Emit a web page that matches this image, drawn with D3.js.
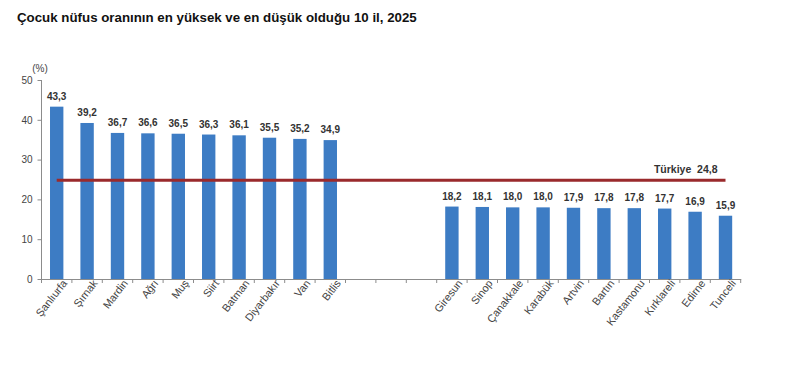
<!doctype html>
<html>
<head>
<meta charset="utf-8">
<style>
  body { margin: 0; background: #fff; font-family: 'Liberation Sans', Arial, sans-serif; }
  svg { display: block; }
  text { font-family: 'Liberation Sans', Arial, sans-serif; }
  .title { font-size: 13.3px; font-weight: 700; fill: #111; }
  .axis path, .axis line { stroke: #8c8c8c; }
  .axis text { font-size: 10px; fill: #444; }
  .xaxis .tick text { font-size: 10.8px; }
  .bar { fill: #3d7cc4; }
  .value { font-size: 10px; font-weight: 700; fill: #333; }
  .ref { stroke: #9a2a2c; stroke-width: 3; }
  .reflabel { font-size: 10.5px; font-weight: 700; fill: #333; }
</style>
<script src="https://d3js.org/d3.v7.min.js"></script>
</head>
<body>
<svg width="800" height="371"></svg>
<script>
const highProvinces = ['Şanlıurfa', 'Şırnak', 'Mardin', 'Ağrı', 'Muş', 'Siirt', 'Batman', 'Diyarbakır', 'Van', 'Bitlis'];
const highValues = [43.3, 39.2, 36.7, 36.6, 36.5, 36.3, 36.1, 35.5, 35.2, 34.9];
const lowProvinces = ['Giresun', 'Sinop', 'Çanakkale', 'Karabük', 'Artvin', 'Bartın', 'Kastamonu', 'Kırklareli', 'Edirne', 'Tunceli'];
const lowValues = [18.2, 18.1, 18.0, 18.0, 17.9, 17.8, 17.8, 17.7, 16.9, 15.9];
const gapSlots = ['_gap1', '_gap2', '_gap3'];
const yTicks = [0, 10, 20, 30, 40, 50];
const turkiyeValue = 24.8;

const data = highProvinces.map((p, i) => ({ name: p, value: highValues[i] }))
  .concat(lowProvinces.map((p, i) => ({ name: p, value: lowValues[i] })));
const domain = highProvinces.concat(gapSlots, lowProvinces);
const fmt = v => v.toFixed(1).replace('.', ',');

const svg = d3.select('svg');

svg.append('text')
  .attr('class', 'title')
  .attr('x', 17)
  .attr('y', 22)
  .text('Çocuk nüfus oranının en yüksek ve en düşük olduğu 10 il, 2025');

const plotLeft = 41.5, plotRight = 740.7, plotTop = 80, plotBottom = 279;

const x = d3.scaleBand()
  .domain(domain)
  .range([plotLeft, plotRight])
  .paddingInner(0.56)
  .paddingOuter(0.28);

const y = d3.scaleLinear()
  .domain([0, 50])
  .range([plotBottom, plotTop]);

// y axis
svg.append('g')
  .attr('class', 'axis')
  .attr('transform', `translate(${plotLeft},0)`)
  .call(d3.axisLeft(y).tickValues(yTicks).tickSize(4).tickSizeOuter(0).tickPadding(5))
  .call(g => g.select('.domain').attr('d', `M0,${plotTop}V${plotBottom}`));

svg.append('text')
  .attr('x', 40)
  .attr('y', 72)
  .attr('text-anchor', 'middle')
  .attr('font-size', 10)
  .attr('fill', '#444')
  .text('(%)');

// x axis
const xAxis = svg.append('g')
  .attr('class', 'axis xaxis')
  .attr('transform', `translate(0,${plotBottom})`)
  .call(d3.axisBottom(x).tickSize(0).tickSizeOuter(0).tickPadding(6)
    .tickFormat(d => gapSlots.includes(d) ? '' : d));

xAxis.selectAll('.tick text')
  .attr('text-anchor', 'end')
  .attr('dx', '0.3em')
  .attr('dy', '0.5em')
  .attr('transform', 'rotate(-52)');

const half = (x.step() - x.bandwidth()) / 2;
const bounds = domain.map(d => x(d) - half).concat([x(domain[domain.length - 1]) + x.bandwidth() + half]);
xAxis.selectAll('line.sep')
  .data(bounds)
  .join('line')
  .attr('class', 'sep')
  .attr('x1', d => d).attr('x2', d => d)
  .attr('y1', 0).attr('y2', 4);

// bars
svg.selectAll('.bar')
  .data(data)
  .join('rect')
  .attr('class', 'bar')
  .attr('x', d => x(d.name))
  .attr('y', d => y(d.value))
  .attr('width', x.bandwidth())
  .attr('height', d => y(0) - y(d.value));

svg.selectAll('.value')
  .data(data)
  .join('text')
  .attr('class', 'value')
  .attr('x', d => x(d.name) + x.bandwidth() / 2)
  .attr('y', d => y(d.value) - 7)
  .attr('text-anchor', 'middle')
  .text(d => fmt(d.value));

// Türkiye reference line
const x1 = x(domain[0]) + x.bandwidth() / 2;
const x2 = x(domain[domain.length - 1]) + x.bandwidth() / 2;
svg.append('line')
  .attr('class', 'ref')
  .attr('x1', x1).attr('x2', x2)
  .attr('y1', y(turkiyeValue)).attr('y2', y(turkiyeValue));

svg.append('text')
  .attr('class', 'reflabel')
  .attr('x', x2 - 8)
  .attr('y', y(turkiyeValue) - 7)
  .attr('text-anchor', 'end')
  .attr('xml:space', 'preserve')
  .text('Türkiye  ' + fmt(turkiyeValue));
</script>
</body>
</html>
